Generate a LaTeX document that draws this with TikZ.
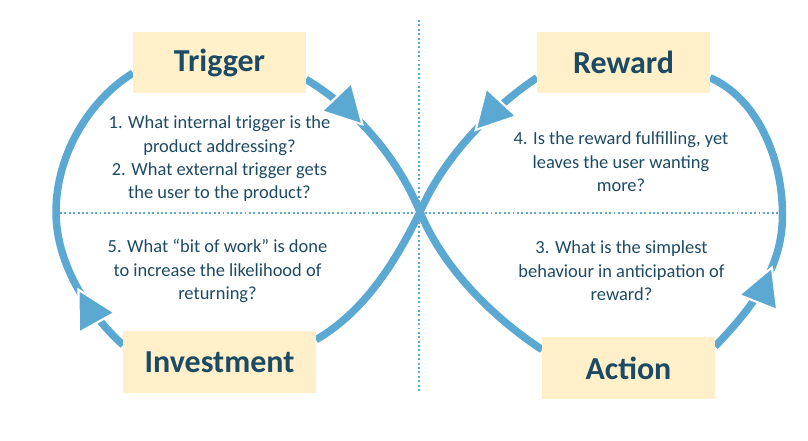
\documentclass[tikz,border=0pt]{standalone}
\usepackage{fontspec}
\setmainfont{Carlito}
\usetikzlibrary{arrows.meta,decorations.markings,backgrounds}
\definecolor{loopblue}{RGB}{91,169,211}
\definecolor{boxcream}{RGB}{255,240,201}
\definecolor{inkblue}{RGB}{29,74,99}
\tikzset{
  stage/.style={fill=boxcream, text=inkblue, font=\fontsize{18.2}{22}\selectfont\bfseries,
    minimum width=3.46cm, minimum height=1.22cm, inner sep=0pt, outer sep=0pt},
  question/.style={text=inkblue, font=\fontsize{10.5}{13.3}\selectfont, align=center},
  flow/.style={draw=loopblue, line width=0.15cm},
  flowarrow/.style={flow, postaction={decorate, decoration={markings,
    mark=at position #1 with {\arrow{Triangle[length=0.82cm,width=0.88cm,color=white,fill=loopblue,line width=1.2pt]}}}}},
  guide/.style={draw=loopblue, line width=0.6pt, dash pattern=on 1.1pt off 1.4pt}
}
\begin{document}
\begin{tikzpicture}
    \useasboundingbox (0,0) rectangle (16.16,8.8);
    % the four stages
    \node[stage] (trigger) at (4.39,7.55) {Trigger};
    \node[stage] (reward) at (12.47,7.55) {Reward};
    \node[stage, minimum width=3.86cm, minimum height=1.24cm] (investment) at (4.39,1.56) {Investment};
    \node[stage, minimum height=1.24cm] (action) at (12.57,1.44) {Action};
    % questions
    \node[question] (q12) at (4.39,5.62) {1. What internal trigger is the\\product addressing?\\2. What external trigger gets\\the user to the product?};
    \node[question] (q4) at (12.42,5.56) {4. Is the reward fulfilling, yet\\leaves the user wanting\\more?};
    \node[question] (q5) at (4.35,3.38) {5. What “bit of work” is done\\to increase the likelihood of\\returning?};
    \node[question] (q3) at (12.43,3.38) {3. What is the simplest\\behaviour in anticipation of\\reward?};
    \coordinate (cross) at (8.40,4.56);
    \coordinate (west) at (1.12,4.56);
    \coordinate (east) at (15.65,4.50);
    \begin{scope}[on background layer]
    \draw[guide] (8.38,8.4) -- (8.38,0.94);
    \draw[guide] (1.2,4.54) -- (15.56,4.54);
    % the loop
    \draw[flowarrow=0.42] (trigger.-11) .. controls (7.04,6.66) and (7.90,5.76) .. (cross);
    \draw[flow] (cross) .. controls (8.90,3.36) and (9.94,2.40) .. (action.168);
    \draw[flowarrow=0.66] (action.14) .. controls (15.0,2.6) and (15.65,3.4) .. (east);
    \draw[flow] (east) .. controls (15.65,5.7) and (15.1,6.86) .. (reward.-10);
    \draw[flowarrow=0.46] (reward.190) .. controls (9.94,6.72) and (8.9,5.72) .. (cross);
    \draw[flow] (cross) .. controls (7.86,3.46) and (7.24,2.54) .. (investment.13);
    \draw[flowarrow=0.48] (investment.170) .. controls (1.84,2.46) and (1.12,3.46) .. (west);
    \draw[flow] (west) .. controls (1.12,5.76) and (1.84,6.84) .. (trigger.187);
    \end{scope}
\end{tikzpicture}
\end{document}
